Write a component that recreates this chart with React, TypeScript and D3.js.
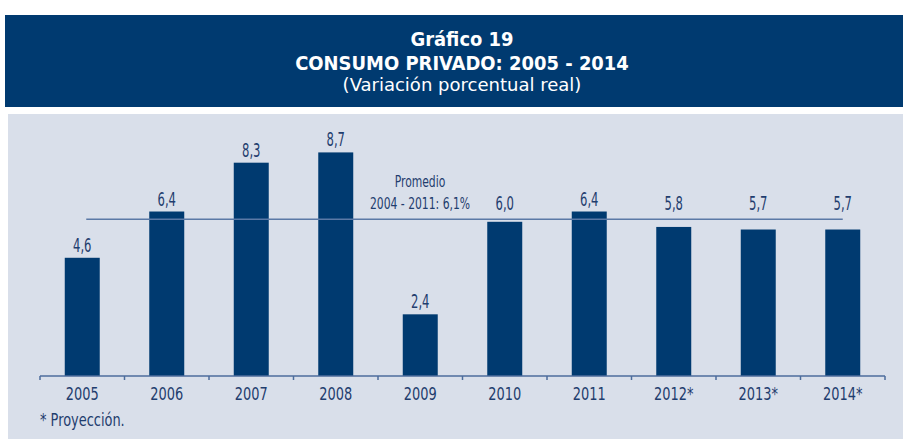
import { FC, useEffect, useRef } from 'react';
import * as d3 from 'd3';

const years = ['2005', '2006', '2007', '2008', '2009', '2010', '2011', '2012*', '2013*', '2014*'];
const values = [4.6, 6.4, 8.3, 8.7, 2.4, 6.0, 6.4, 5.8, 5.7, 5.7];
const average = 6.1;
const averageLabel = ['Promedio', '2004 - 2011: 6,1%'];
const titleLines = ['Gráfico 19', 'CONSUMO PRIVADO: 2005 - 2014'];
const subtitle = '(Variación porcentual real)';
const footnote = '* Proyección.';

const W = 903;
const H = 439;
const FONT = "'DejaVu Sans Condensed', 'DejaVu Sans', sans-serif";
const INK = '#1f3d6e';

const fmt = (v: number) => d3.format('.1f')(v).replace('.', ',');

type Sel = d3.Selection<any, any, any, any>;

// text squeezed horizontally to mimic the condensed face of the original
const label = (parent: Sel, x: number, y: number, t: string, size: number, sx: number, anchor = 'middle', fill = INK, weight = 'normal') =>
  parent.append('text')
    .attr('transform', `translate(${x},${y}) scale(${sx},1)`)
    .attr('text-anchor', anchor)
    .attr('font-family', FONT)
    .attr('font-size', size)
    .attr('font-weight', weight)
    .attr('fill', fill)
    .text(t);

const App: FC = () => {
  const ref = useRef<SVGSVGElement | null>(null);

  useEffect(() => {
    const svg = d3.select(ref.current);
    svg.selectAll('*').remove();

    // header band
    svg.append('rect').attr('x', 5).attr('y', 15).attr('width', W - 5).attr('height', 92).attr('fill', '#003a70');
    label(svg, 462, 46, titleLines[0], 19, 1.05, 'middle', 'white', 'bold');
    label(svg, 462, 70, titleLines[1], 19, 1.05, 'middle', 'white', 'bold');
    label(svg, 462, 91, subtitle, 17, 1.18, 'middle', 'white');

    // chart panel
    svg.append('rect').attr('x', 8).attr('y', 114).attr('width', W - 8).attr('height', H - 114).attr('fill', '#d9dfea');

    const x = d3.scaleBand().domain(years).range([40, 885]).paddingInner(0.586).paddingOuter(0.293);
    const y = d3.scaleLinear().domain([0, 10]).range([376, 119]);
    const cx = (d: string) => x(d)! + x.bandwidth() / 2;

    const g = svg.append('g');

    g.selectAll('.bar')
      .data(values)
      .enter()
      .append('rect')
      .attr('class', 'bar')
      .attr('x', (d, i) => x(years[i])!)
      .attr('y', d => y(d))
      .attr('width', x.bandwidth())
      .attr('height', d => y(0) - y(d))
      .attr('fill', '#003a70');

    // average line
    g.append('line')
      .attr('x1', cx(years[0]) + 4).attr('x2', cx(years[years.length - 1]))
      .attr('y1', y(average)).attr('y2', y(average))
      .attr('stroke', '#5b79a6').attr('stroke-width', 1.5);

    label(g, 420, 187, averageLabel[0], 16, 0.75);
    label(g, 420, 208.5, averageLabel[1], 16, 0.75);

    // value labels; bars just under the average get their label above the line
    values.forEach((v, i) => {
      const top = v < average && v > average - 1 ? y(average) - 3 : y(v);
      label(g, cx(years[i]), top - 6, fmt(v), 19, 0.68);
    });

    // axis
    const axis = g.append('g').attr('transform', `translate(0,${y(0)})`);
    axis.append('line').attr('x1', 40).attr('x2', 885).attr('stroke', '#4d6d9c').attr('stroke-width', 1.5);
    axis.selectAll('.tk')
      .data(d3.range(years.length + 1))
      .enter()
      .append('line')
      .attr('x1', i => 40 + i * x.step()).attr('x2', i => 40 + i * x.step())
      .attr('y1', 0).attr('y2', 4)
      .attr('stroke', '#4d6d9c').attr('stroke-width', 1.5);
    years.forEach(d => label(axis, cx(d), 24, d, 18, 0.8));

    label(svg, 40, 426, footnote, 18, 0.8, 'start');
  }, []);

  return <svg ref={ref} width={W} height={H} style={{ position: 'absolute', left: 0, top: 0, background: 'white' }} />;
};

export default App;
